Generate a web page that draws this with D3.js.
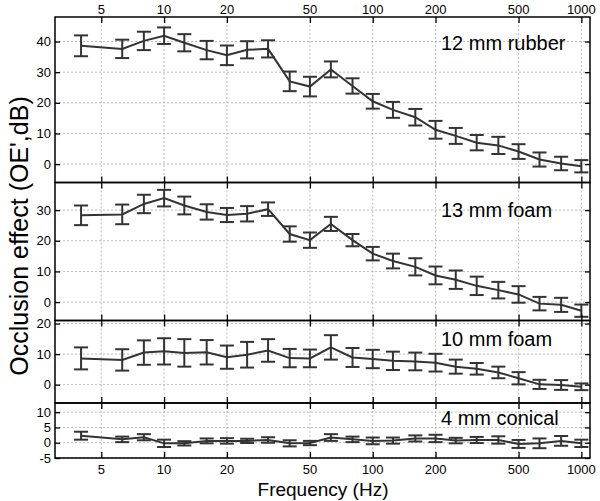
<!DOCTYPE html>
<html><head><meta charset="utf-8">
<script src="https://cdn.jsdelivr.net/npm/d3@7"></script>
<style>body{margin:0;background:#fff;} svg{display:block;} text{font-family:"Liberation Sans",Arial,Helvetica,sans-serif;}</style>
</head><body>
<svg id="c" width="600" height="501"></svg>
<script>
const freqs = [4, 6.3, 8, 10, 12.5, 16, 20, 25, 31.5, 40, 50, 63, 80, 100, 125, 160, 200, 250, 315, 400, 500, 630, 800, 1000];
const xTicks = [5, 10, 20, 50, 100, 200, 500, 1000];

const rubber12Mean = [38.6, 37.6, 40.2, 41.9, 39.6, 37.2, 35.5, 37.3, 37.6, 27.0, 25.3, 30.9, 25.5, 20.5, 17.7, 15.3, 11.2, 9.2, 7.0, 6.1, 4.1, 1.5, 0.2, -0.7];
const rubber12Err  = [3.4, 3.0, 3.0, 2.7, 2.8, 3.0, 3.2, 2.8, 2.8, 3.2, 3.2, 2.6, 2.5, 2.4, 2.6, 2.7, 2.9, 2.6, 2.5, 2.8, 2.4, 2.3, 2.2, 2.0];

const foam13Mean = [28.3, 28.6, 32.0, 33.9, 31.5, 29.4, 28.4, 28.8, 30.3, 22.2, 20.2, 25.5, 20.2, 15.8, 13.4, 11.5, 8.7, 7.3, 5.3, 3.9, 2.5, -0.5, -0.9, -2.8];
const foam13Err  = [3.2, 3.2, 3.0, 2.7, 2.9, 2.5, 2.3, 2.5, 2.2, 2.5, 2.5, 2.3, 2.0, 2.2, 2.4, 2.8, 2.9, 3.0, 3.0, 2.7, 2.7, 2.2, 2.3, 2.0];

const foam10Mean = [8.6, 8.1, 10.5, 10.9, 10.4, 10.6, 9.0, 9.8, 11.2, 8.7, 8.6, 12.2, 8.9, 8.4, 7.8, 7.6, 7.2, 5.9, 5.2, 4.0, 2.1, 0.1, -0.1, -0.7];
const foam10Err  = [3.6, 3.5, 4.0, 4.3, 4.5, 4.0, 3.8, 4.2, 3.7, 3.0, 2.9, 4.0, 3.1, 3.0, 3.0, 2.9, 2.9, 2.3, 1.9, 1.9, 2.0, 1.5, 1.6, 1.1];

const conical4Mean = [2.3, 1.1, 1.8, -0.2, -0.2, 0.6, 0.6, 0.6, 0.9, -0.2, -0.1, 1.7, 1.1, 0.6, 0.7, 1.4, 1.4, 0.7, 0.9, 0.9, -0.4, -0.2, 0.6, -0.2];
const conical4Err  = [1.3, 0.9, 1.0, 1.2, 0.7, 0.8, 0.9, 0.7, 0.9, 1.0, 0.7, 1.1, 0.9, 1.1, 1.0, 1.0, 1.2, 0.9, 1.0, 1.2, 1.3, 1.6, 1.6, 1.2];

const panelLabels = ["12 mm rubber", "13 mm foam", "10 mm foam", "4 mm conical"];
const panelDomains = [[-6, 48], [-6, 39], [-6, 21], [-5, 13]];
const panelTicks = [[0, 10, 20, 30, 40], [0, 10, 20, 30], [0, 10, 20], [-5, 0, 5, 10]];
const panelMeans = [rubber12Mean, foam13Mean, foam10Mean, conical4Mean];
const panelErrs = [rubber12Err, foam13Err, foam10Err, conical4Err];

// layout
const L = 55, R = 590;
const panelPix = [[17, 182.5], [182.5, 320.5], [320.5, 403], [403, 458]];
const labelY = [50, 217, 346, 425];

const svg = d3.select("#c");
const x = d3.scaleLog().domain([3, 1100]).range([L, R]);
const lineColor = "#333";

panelDomains.forEach((dom, i) => {
  const [top, bot] = panelPix[i];
  const y = d3.scaleLinear().domain(dom).range([bot, top]);
  const g = svg.append("g");

  // grid
  g.selectAll(".vg").data(xTicks).enter().append("line")
    .attr("x1", d => x(d)).attr("x2", d => x(d)).attr("y1", top).attr("y2", bot)
    .attr("stroke", "#aaa").attr("stroke-width", 0.8).attr("stroke-dasharray", "2,2");
  g.selectAll(".hg").data(panelTicks[i]).enter().append("line")
    .attr("x1", L).attr("x2", R).attr("y1", d => y(d)).attr("y2", d => y(d))
    .attr("stroke", "#aaa").attr("stroke-width", 0.8).attr("stroke-dasharray", "2,2");

  // axes (ticks inward)
  const ax = svg.append("g").attr("transform", `translate(${L},0)`)
    .call(d3.axisRight(y).tickValues(panelTicks[i]).tickSize(5).tickFormat(""));
  const ax2 = svg.append("g").attr("transform", `translate(${R},0)`)
    .call(d3.axisLeft(y).tickValues(panelTicks[i]).tickSize(5).tickFormat(""));
  const axT = svg.append("g").attr("transform", `translate(0,${top})`)
    .call(d3.axisBottom(x).tickValues(xTicks).tickSize(6).tickFormat(""));
  const axB = svg.append("g").attr("transform", `translate(0,${bot})`)
    .call(d3.axisTop(x).tickValues(xTicks).tickSize(6).tickFormat(""));
  [ax, ax2, axT, axB].forEach(a => {
    a.select(".domain").remove();
    a.selectAll(".tick line").attr("stroke", "#000").attr("stroke-width", 1.3);
  });

  // y tick labels
  svg.append("g").selectAll("text").data(panelTicks[i]).enter().append("text")
    .attr("x", L - 4).attr("y", d => y(d)).attr("dy", "0.35em")
    .attr("text-anchor", "end").attr("font-size", 13).attr("fill", "#000")
    .text(d => d);

  // data
  const means = panelMeans[i], errs = panelErrs[i];
  const pts = freqs.map((f, k) => ({f, m: means[k], e: errs[k]}));
  const line = d3.line().x(d => x(d.f)).y(d => y(d.m));
  g.append("path").datum(pts).attr("d", line).attr("fill", "none")
    .attr("stroke", lineColor).attr("stroke-width", 2);
  const eb = g.selectAll(".eb").data(pts).enter().append("g");
  eb.append("line").attr("x1", d => x(d.f)).attr("x2", d => x(d.f))
    .attr("y1", d => y(d.m - d.e)).attr("y2", d => y(d.m + d.e))
    .attr("stroke", lineColor).attr("stroke-width", 2);
  eb.append("line").attr("x1", d => x(d.f) - 7).attr("x2", d => x(d.f) + 7)
    .attr("y1", d => y(d.m - d.e)).attr("y2", d => y(d.m - d.e))
    .attr("stroke", lineColor).attr("stroke-width", 2);
  eb.append("line").attr("x1", d => x(d.f) - 7).attr("x2", d => x(d.f) + 7)
    .attr("y1", d => y(d.m + d.e)).attr("y2", d => y(d.m + d.e))
    .attr("stroke", lineColor).attr("stroke-width", 2);

  // frame
  svg.append("rect").attr("x", L).attr("y", top).attr("width", R - L).attr("height", bot - top)
    .attr("fill", "none").attr("stroke", "#000").attr("stroke-width", 1.5);

  // panel label
  svg.append("text").attr("x", 441).attr("y", labelY[i]).attr("font-size", 20)
    .attr("fill", "#000").text(panelLabels[i]);
});

// top & bottom x tick labels
svg.append("g").selectAll("text").data(xTicks).enter().append("text")
  .attr("x", d => x(d)).attr("y", 14).attr("text-anchor", "middle")
  .attr("font-size", 13).text(d => d);
svg.append("g").selectAll("text").data(xTicks).enter().append("text")
  .attr("x", d => x(d)).attr("y", 474).attr("text-anchor", "middle")
  .attr("font-size", 13).text(d => d);

// axis titles
svg.append("text").attr("x", 323).attr("y", 496).attr("text-anchor", "middle")
  .attr("font-size", 19).text("Frequency (Hz)");
svg.append("text").attr("transform", "translate(28,236) rotate(-90)")
  .attr("text-anchor", "middle").attr("font-size", 25).text("Occlusion effect (OE',dB)");
</script>
</body></html>
